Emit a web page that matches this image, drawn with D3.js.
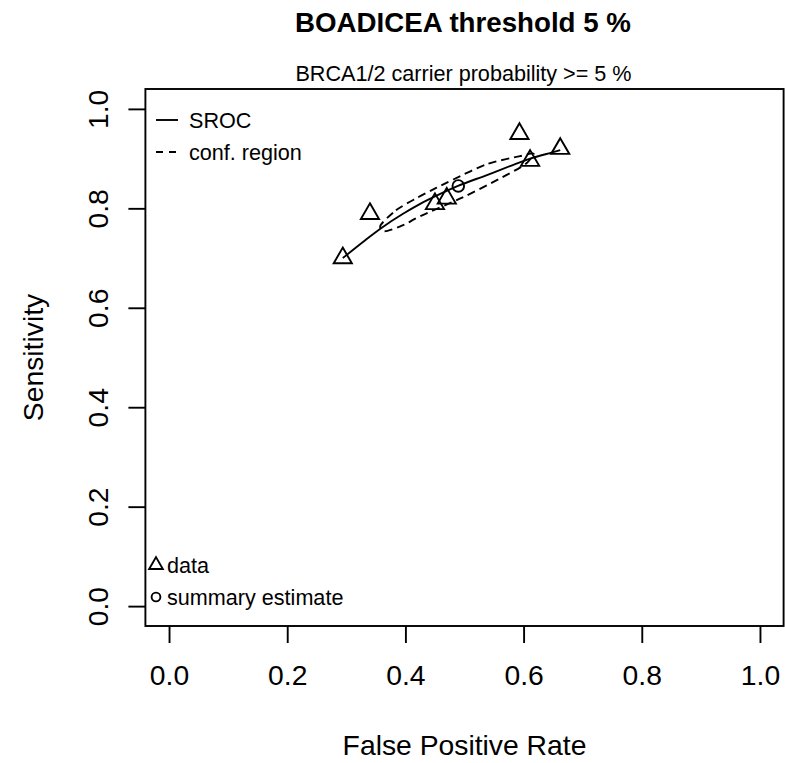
<!DOCTYPE html>
<html>
<head>
<meta charset="utf-8">
<script src="https://cdn.jsdelivr.net/npm/d3@7"></script>
<style>
  html, body { margin: 0; padding: 0; background: #fff; }
  svg { display: block; font-family: "Liberation Sans", Arial, sans-serif; }
</style>
</head>
<body>
<svg id="chart" width="785" height="763"></svg>
<script>
// ---- data ----
const titleText = "BOADICEA threshold 5 %";
const subtitleText = "BRCA1/2 carrier probability >= 5 %";
const xLabel = "False Positive Rate";
const yLabel = "Sensitivity";
const tickValues = [0, 0.2, 0.4, 0.6, 0.8, 1.0];

// study data points (false positive rate, sensitivity)
const dataFpr  = [0.294, 0.340, 0.450, 0.470, 0.593, 0.611, 0.662];
const dataSens = [0.700, 0.789, 0.809, 0.820, 0.950, 0.896, 0.920];

// summary estimate
const summaryFpr = [0.4895];
const summarySens = [0.845];

// SROC curve
const srocFpr  = [0.294, 0.332, 0.360, 0.396, 0.425, 0.459, 0.489, 0.538, 0.577, 0.611, 0.650, 0.662];
const srocSens = [0.700, 0.736, 0.761, 0.789, 0.809, 0.829, 0.845, 0.867, 0.885, 0.900, 0.913, 0.917];

// confidence region (closed)
const confFpr  = [0.358, 0.384, 0.418, 0.452, 0.481, 0.538, 0.594, 0.617, 0.607, 0.594, 0.560, 0.497, 0.425, 0.396, 0.365];
const confSens = [0.766, 0.796, 0.820, 0.841, 0.858, 0.889, 0.905, 0.910, 0.893, 0.882, 0.860, 0.822, 0.784, 0.766, 0.754];

const legendLines = ["SROC", "conf. region"];
const legendSymbols = ["data", "summary estimate"];

// ---- drawing ----
const svg = d3.select("#chart");
const box = { left: 145.4, right: 783.6, top: 89, bottom: 626 };
const x = d3.scaleLinear().domain([-0.04, 1.04]).range([box.left, box.right]);
const y = d3.scaleLinear().domain([-0.04, 1.04]).range([box.bottom, box.top]);

const axisFont = 28.3;
const lw = 1.9;
const dash = "8,5";

function triPath(r) {
  const xc = r * Math.sqrt(3) / 2;
  return `M0,${-r}L${xc},${r / 2}L${-xc},${r / 2}Z`;
}

// titles
svg.append("text").attr("x", 463).attr("y", 32).attr("text-anchor", "middle")
  .attr("font-size", 27.7).attr("font-weight", "bold").text(titleText);
svg.append("text").attr("x", 463.5).attr("y", 81).attr("text-anchor", "middle")
  .attr("font-size", 21.6).text(subtitleText);

// axes
const xAxis = d3.axisBottom(x).tickValues(tickValues).tickFormat(d3.format(".1f"))
  .tickSize(17).tickPadding(22);
const gx = svg.append("g").attr("transform", `translate(0,${box.bottom})`).call(xAxis);
gx.select(".domain").remove();
gx.selectAll("line").attr("stroke", "#000").attr("stroke-width", lw);
gx.selectAll("text").attr("font-size", axisFont).attr("font-family", "Liberation Sans, Arial, sans-serif").attr("fill", "#000");

const yAxis = d3.axisLeft(y).tickValues(tickValues).tickFormat(d3.format(".1f"))
  .tickSize(17).tickPadding(0);
const gy = svg.append("g").attr("transform", `translate(${box.left},0)`).call(yAxis);
gy.select(".domain").remove();
gy.selectAll("line").attr("stroke", "#000").attr("stroke-width", lw);
gy.selectAll("text")
  .attr("font-size", axisFont).attr("font-family", "Liberation Sans, Arial, sans-serif").attr("fill", "#000")
  .attr("x", null).attr("dy", null)
  .attr("text-anchor", "middle")
  .attr("transform", "translate(-37,0) rotate(-90)");

// axis titles
svg.append("text").attr("x", 464.5).attr("y", 755).attr("text-anchor", "middle")
  .attr("font-size", axisFont).text(xLabel);
svg.append("text").attr("transform", `translate(43,357.5) rotate(-90)`).attr("text-anchor", "middle")
  .attr("font-size", axisFont).text(yLabel);

// plot box
svg.append("rect").attr("x", box.left).attr("y", box.top)
  .attr("width", box.right - box.left).attr("height", box.bottom - box.top)
  .attr("fill", "none").attr("stroke", "#000").attr("stroke-width", lw);

// confidence region
const confPts = confFpr.map((f, i) => [x(f), y(confSens[i])]);
svg.append("path")
  .attr("d", d3.line().curve(d3.curveCardinalClosed.tension(0.2))(confPts))
  .attr("fill", "none").attr("stroke", "#000").attr("stroke-width", lw)
  .attr("stroke-dasharray", dash);

// SROC
const srocPts = srocFpr.map((f, i) => [x(f), y(srocSens[i])]);
svg.append("path")
  .attr("d", d3.line().curve(d3.curveMonotoneX)(srocPts))
  .attr("fill", "none").attr("stroke", "#000").attr("stroke-width", lw);

// data points
svg.selectAll(".tri").data(dataFpr).enter().append("path")
  .attr("class", "tri")
  .attr("transform", (d, i) => `translate(${x(d)},${y(dataSens[i])})`)
  .attr("d", triPath(10.5))
  .attr("fill", "none").attr("stroke", "#000").attr("stroke-width", lw);

// summary point
svg.selectAll(".sum").data(summaryFpr).enter().append("circle")
  .attr("class", "sum")
  .attr("cx", d => x(d)).attr("cy", (d, i) => y(summarySens[i]))
  .attr("r", 5.8)
  .attr("fill", "none").attr("stroke", "#000").attr("stroke-width", lw);

// legend top-left
const legY = [120, 152];
legendLines.forEach((t, i) => {
  svg.append("line").attr("x1", 156).attr("x2", 178).attr("y1", legY[i]).attr("y2", legY[i])
    .attr("stroke", "#000").attr("stroke-width", lw)
    .attr("stroke-dasharray", i === 1 ? "7,6" : null);
  svg.append("text").attr("x", 189).attr("y", legY[i]).attr("dy", "0.35em")
    .attr("font-size", 21.6).text(t);
});

// legend bottom-left
const leg2Y = [565, 597];
legendSymbols.forEach((t, i) => {
  if (i === 0) {
    svg.append("path").attr("transform", `translate(156,${leg2Y[i]})`).attr("d", triPath(7.9))
      .attr("fill", "none").attr("stroke", "#000").attr("stroke-width", lw);
  } else {
    svg.append("circle").attr("cx", 156).attr("cy", leg2Y[i]).attr("r", 4.4)
      .attr("fill", "none").attr("stroke", "#000").attr("stroke-width", lw);
  }
  svg.append("text").attr("x", 167).attr("y", leg2Y[i]).attr("dy", "0.35em")
    .attr("font-size", 21.6).text(t);
});
</script>
</body>
</html>
